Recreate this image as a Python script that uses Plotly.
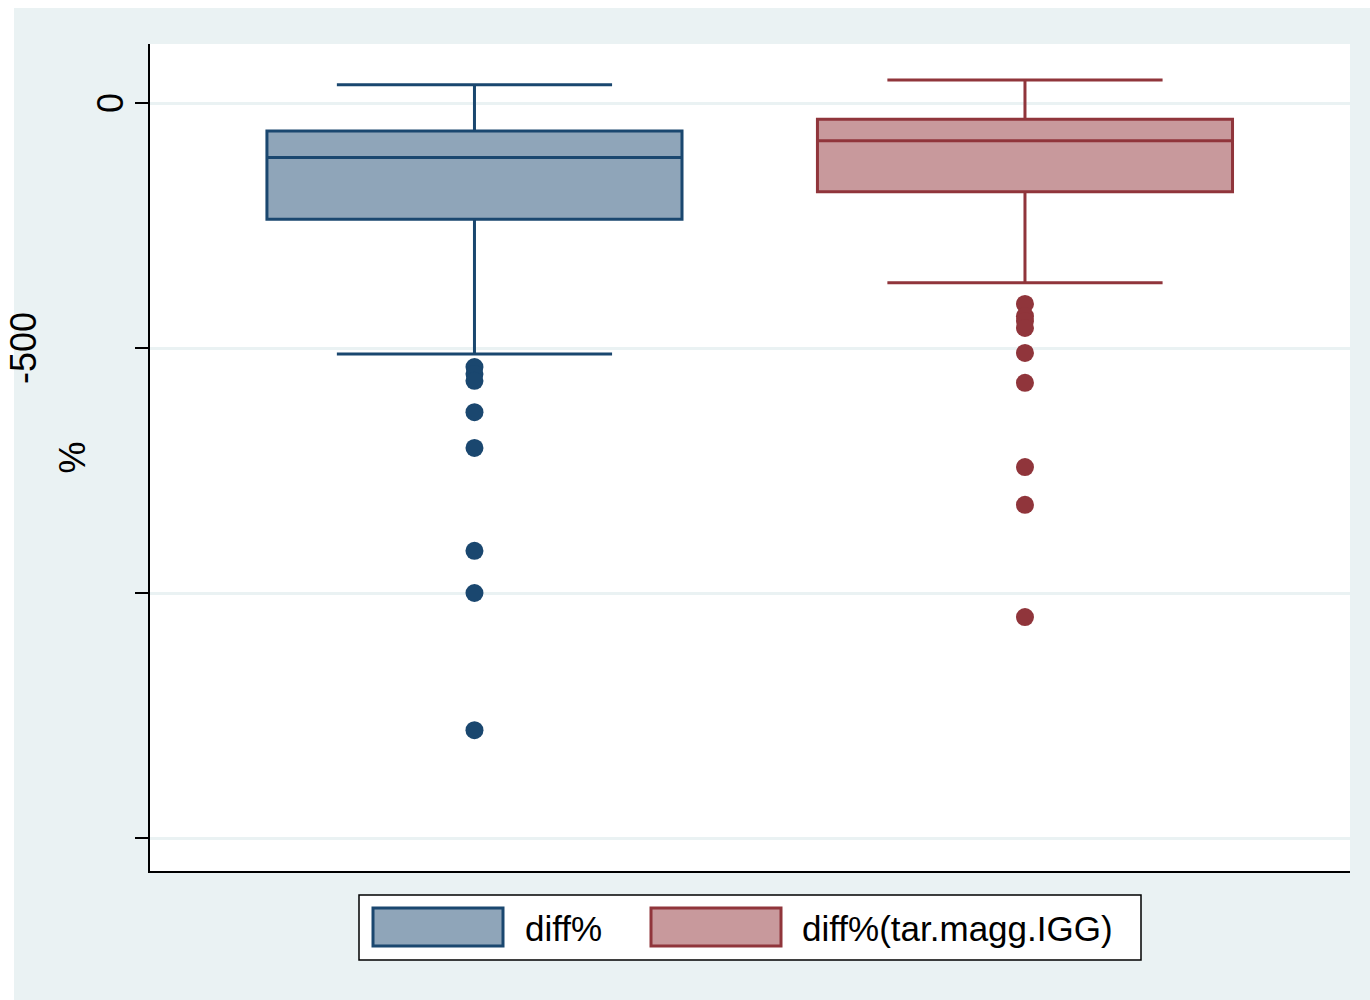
import plotly.graph_objects as go

# ---- data ----
series_names = ["diff%", "diff%(tar.magg.IGG)"]
series_pos = [1, 2]
upper_fence = [37, 47]
q3_vals = [-57, -33]
median_vals = [-111, -77]
q1_vals = [-237, -181]
lower_fence = [-512, -367]
outliers_1 = [-539, -553, -567, -631, -704, -914, -1000, -1280]
outliers_2 = [-410, -435, -445, -459, -510, -571, -743, -820, -1049]
outliers = [outliers_1, outliers_2]

ytick_vals = [0, -500, -1000, -1500]
ytick_labels = ["0", "-500", "", ""]

line_colors = ["#1A476F", "#90353B"]
fill_colors = ["#8FA5B9", "#C8999C"]
bg = "#EAF2F3"
FONT = "Liberation Sans, Arial, sans-serif"

fig = go.Figure()
for i in range(2):
    fig.add_trace(go.Box(
        x=[series_pos[i]], q1=[q1_vals[i]], median=[median_vals[i]], q3=[q3_vals[i]],
        lowerfence=[lower_fence[i]], upperfence=[upper_fence[i]],
        name=series_names[i], width=0.754, whiskerwidth=0.663,
        line=dict(color=line_colors[i], width=3), fillcolor=fill_colors[i],
        boxpoints=False, showlegend=False, hoverinfo="y"))
    fig.add_trace(go.Scatter(
        x=[series_pos[i]] * len(outliers[i]), y=outliers[i], mode="markers",
        marker=dict(color=line_colors[i], size=18, line=dict(width=0)),
        showlegend=False, name=series_names[i]))

# helpers for paper coordinates from pixel layout of the frame
W, L, T, H = 1200, 150, 44, 827
def px(x):
    return (x - L) / W
def py(y):
    return (T + H - y) / H

shapes = [
    # white outer strips (top and left)
    dict(type="rect", xref="paper", yref="paper", x0=px(0), x1=px(1370), y0=py(8), y1=py(0),
         fillcolor="white", line=dict(width=0), layer="below"),
    dict(type="rect", xref="paper", yref="paper", x0=px(0), x1=px(14), y0=py(1000), y1=py(0),
         fillcolor="white", line=dict(width=0), layer="below"),
    # legend frame
    dict(type="rect", xref="paper", yref="paper", x0=px(359), x1=px(1141), y0=py(960), y1=py(895),
         fillcolor="white", line=dict(color="black", width=1.5)),
]
swatch_x = [(373, 503), (651, 781)]
text_x = [523, 800]
annotations = []
for i in range(2):
    shapes.append(dict(type="rect", xref="paper", yref="paper",
                       x0=px(swatch_x[i][0]), x1=px(swatch_x[i][1]), y0=py(946), y1=py(908),
                       fillcolor=fill_colors[i], line=dict(color=line_colors[i], width=3)))
    annotations.append(dict(xref="paper", yref="paper", x=px(text_x[i]), y=py(928),
                            xanchor="left", yanchor="middle", text=series_names[i], showarrow=False,
                            font=dict(family=FONT, size=35, color="black")))

# y tick labels (rotated, Stata style)
label_x = {"0": 110, "-500": 23}
for v, t in zip(ytick_vals, ytick_labels):
    if t:
        annotations.append(dict(xref="paper", yref="y", x=px(label_x[t]), y=v, text=t,
                                textangle=-90, xanchor="center", yanchor="middle", showarrow=False,
                                font=dict(family=FONT, size=36, color="black")))
annotations.append(dict(xref="paper", yref="paper", x=px(72), y=0.5, text="%", textangle=-90,
                        xanchor="center", yanchor="middle", showarrow=False,
                        font=dict(family=FONT, size=36, color="black")))

fig.update_layout(
    width=1370, height=1000,
    margin=dict(l=150, r=20, t=44, b=129, autoexpand=False),
    paper_bgcolor=bg, plot_bgcolor="white",
    font=dict(family=FONT, size=35, color="black"),
    showlegend=False, boxmode="overlay",
    shapes=shapes, annotations=annotations,
    xaxis=dict(range=[0.4106, 2.5904], showticklabels=False, showgrid=False, zeroline=False,
               ticks="", showline=True, linecolor="black", linewidth=1.5),
    yaxis=dict(range=[-1567.3, 120.4], tickvals=ytick_vals, showticklabels=False,
               showgrid=True, gridcolor=bg, gridwidth=2.5, zeroline=False,
               ticks="outside", ticklen=13, tickwidth=1.5, tickcolor="black",
               showline=True, linecolor="black", linewidth=1.5),
)

fig.write_html("out.html")
